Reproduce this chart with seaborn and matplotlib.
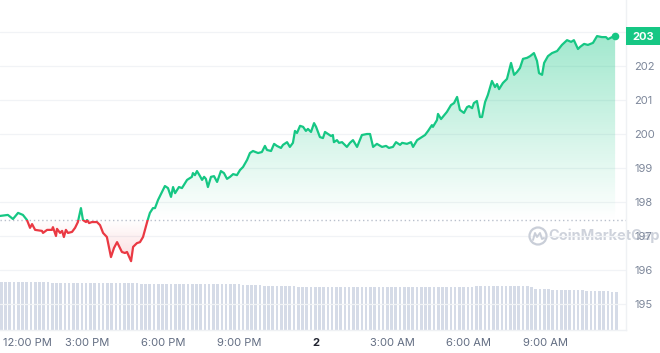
import numpy as np
import matplotlib
matplotlib.use("Agg")
import matplotlib.pyplot as plt
import matplotlib.transforms as mtransforms
from matplotlib.colors import LinearSegmentedColormap
from matplotlib.path import Path
from matplotlib.patches import Rectangle, Circle
from matplotlib.lines import Line2D
import seaborn as sns

# ---------------- data ----------------
# time in hours since midnight of day 1 (24 = "2", i.e. midnight of day 2)
hours = [
    11.58, 11.89, 12.09, 12.29, 12.48, 12.64, 12.76, 12.84, 12.96, 13.23, 13.27, 13.43,
    13.62, 13.66, 13.78, 13.82, 13.94, 14.02, 14.09, 14.17, 14.25, 14.41, 14.53, 14.64,
    14.76, 14.84, 14.96, 15.00, 15.08, 15.19, 15.39, 15.51, 15.63, 15.78, 15.94, 16.06,
    16.18, 16.37, 16.49, 16.57, 16.73, 16.81, 16.96, 17.08, 17.20, 17.36, 17.47, 17.59,
    17.67, 17.79, 18.06, 18.18, 18.30, 18.38, 18.46, 18.61, 18.73, 18.93, 19.12, 19.16,
    19.24, 19.32, 19.44, 19.52, 19.60, 19.67, 19.75, 19.87, 19.99, 20.11, 20.26, 20.38,
    20.50, 20.62, 20.74, 20.89, 21.01, 21.13, 21.29, 21.40, 21.52, 21.72, 21.87, 21.99,
    22.07, 22.23, 22.35, 22.46, 22.62, 22.70, 22.86, 22.97, 23.09, 23.17, 23.25, 23.37,
    23.49, 23.60, 23.68, 23.80, 23.92, 24.00, 24.15, 24.27, 24.35, 24.47, 24.59, 24.66,
    24.70, 24.82, 24.90, 25.02, 25.21, 25.33, 25.45, 25.61, 25.80, 26.00, 26.12, 26.24,
    26.39, 26.59, 26.75, 26.86, 27.02, 27.14, 27.30, 27.38, 27.57, 27.73, 27.81, 27.97,
    28.16, 28.28, 28.40, 28.55, 28.59, 28.75, 28.79, 28.91, 29.14, 29.30, 29.42, 29.54,
    29.65, 29.81, 29.93, 30.01, 30.13, 30.20, 30.32, 30.44, 30.52, 30.64, 30.75, 30.91,
    31.03, 31.11, 31.19, 31.34, 31.50, 31.66, 31.78, 31.89, 32.01, 32.13, 32.29, 32.41,
    32.56, 32.68, 32.76, 32.88, 32.96, 33.11, 33.27, 33.47, 33.66, 33.86, 34.02, 34.13,
    34.29, 34.37, 34.53, 34.68, 34.88, 35.04, 35.23, 35.39, 35.47, 35.63, 35.75,
]
prices = [
    197.59, 197.62, 197.50, 197.68, 197.62, 197.47, 197.24, 197.35, 197.18, 197.15, 197.09, 197.18,
    197.18, 197.26, 197.00, 197.21, 197.09, 197.15, 196.97, 197.18, 197.09, 197.12, 197.24, 197.41,
    197.82, 197.47, 197.41, 197.47, 197.38, 197.41, 197.41, 197.32, 197.09, 196.97, 196.38, 196.65,
    196.82, 196.53, 196.50, 196.53, 196.26, 196.68, 196.79, 196.82, 196.97, 197.41, 197.68, 197.82,
    197.82, 198.06, 198.47, 198.41, 198.15, 198.44, 198.26, 198.44, 198.41, 198.65, 198.74, 198.85,
    198.79, 198.91, 198.76, 198.65, 198.74, 198.68, 198.44, 198.74, 198.76, 198.59, 198.91, 198.85,
    198.68, 198.74, 198.82, 198.79, 198.94, 199.03, 199.24, 199.44, 199.50, 199.44, 199.47, 199.65,
    199.53, 199.50, 199.71, 199.65, 199.59, 199.68, 199.76, 199.62, 199.74, 200.09, 200.03, 200.24,
    200.21, 200.09, 200.15, 200.06, 200.32, 200.21, 199.91, 199.88, 200.06, 200.00, 199.94, 199.97,
    199.76, 199.82, 199.74, 199.76, 199.62, 199.74, 199.82, 199.62, 199.97, 200.00, 200.00, 199.62,
    199.71, 199.62, 199.65, 199.59, 199.62, 199.76, 199.68, 199.74, 199.71, 199.76, 199.62, 199.82,
    199.91, 199.97, 200.09, 200.26, 200.21, 200.41, 200.59, 200.44, 200.65, 200.85, 200.91, 201.09,
    200.71, 200.62, 200.79, 200.82, 200.76, 200.91, 200.97, 200.50, 200.50, 200.94, 201.15, 201.56,
    201.38, 201.47, 201.32, 201.50, 201.62, 202.09, 201.74, 201.82, 201.94, 202.21, 202.24, 202.29,
    202.38, 202.15, 201.79, 201.74, 202.09, 202.29, 202.38, 202.44, 202.62, 202.76, 202.71, 202.76,
    202.50, 202.56, 202.65, 202.62, 202.68, 202.88, 202.85, 202.85, 202.79, 202.85, 202.88,
]
open_price = 197.47

# volume, one bar per 10 minutes starting at the first time stamp (arbitrary units)
volume = [
    4.83, 4.82, 4.82, 4.81, 4.80, 4.80, 4.79, 4.78, 4.77, 4.77, 4.76, 4.76, 4.75, 4.75, 4.74,
    4.74, 4.73, 4.73, 4.72, 4.72, 4.71, 4.71, 4.70, 4.70, 4.69, 4.68, 4.68, 4.67, 4.67, 4.67,
    4.66, 4.66, 4.66, 4.65, 4.65, 4.65, 4.64, 4.64, 4.64, 4.63, 4.63, 4.63, 4.62, 4.62, 4.62,
    4.62, 4.61, 4.61, 4.61, 4.61, 4.60, 4.60, 4.60, 4.60, 4.60, 4.59, 4.58, 4.55, 4.52, 4.50,
    4.48, 4.47, 4.45, 4.44, 4.42, 4.41, 4.40, 4.38, 4.37, 4.36, 4.35, 4.34, 4.33, 4.32, 4.31,
    4.30, 4.29, 4.28, 4.27, 4.27, 4.27, 4.27, 4.27, 4.27, 4.27, 4.27, 4.27, 4.27, 4.27, 4.27,
    4.27, 4.27, 4.27, 4.27, 4.28, 4.28, 4.28, 4.29, 4.29, 4.29, 4.30, 4.30, 4.31, 4.31, 4.32,
    4.32, 4.33, 4.33, 4.34, 4.34, 4.35, 4.35, 4.36, 4.36, 4.37, 4.38, 4.39, 4.40, 4.41, 4.41,
    4.40, 4.40, 4.39, 4.38, 4.36, 4.33, 4.10, 4.08, 4.07, 4.06, 4.05, 4.04, 4.03, 4.02, 4.01,
    4.00, 3.98, 3.96, 3.94, 3.93, 3.92, 3.90, 3.88, 3.86, 3.84, 3.83,
]
vol_hours = [hours[0] + i / 6 for i in range(len(volume))]

xtick_pos = [12, 15, 18, 21, 24, 27, 30, 33]
xtick_labels = ["12:00 PM", "3:00 PM", "6:00 PM", "9:00 PM", "2", "3:00 AM", "6:00 AM", "9:00 AM"]
ytick_pos = [195, 196, 197, 198, 199, 200, 201, 202]
grid_levels = [195, 196, 197, 198, 199, 200, 201, 202, 203]
current_label = "203"

# ---------------- style ----------------
sns.set_theme(style="white")
plt.rcParams["font.family"] = ["Inter", "DejaVu Sans"]

GREEN = "#16c784"
RED = "#ea3943"
TICK = "#7d879a"

W, H = 660, 353
fig = plt.figure(figsize=(W / 100, H / 100), dpi=100)
fig.patch.set_facecolor("white")

ax_left, ax_right, ax_top, ax_bottom = 0, 626, 0, 330
ax = fig.add_axes([ax_left / W, (H - ax_bottom) / H, (ax_right - ax_left) / W, (ax_bottom - ax_top) / H])
ax2 = ax.twinx()

x0 = hours[0]
x1 = x0 + 626 / 25.45
y_lo, y_hi = 202 - 264 / 34, 202 + 66 / 34

# volume bars (behind)
ax2.bar(vol_hours, volume, width=(1 / 6) * 0.62, align="edge", color="#d5dbe7", linewidth=0)
ax2.set_ylim(0, 33)
ax2.set_xlim(x0, x1)
ax2.axis("off")
ax.set_zorder(ax2.get_zorder() + 1)
ax.patch.set_visible(False)

# grid lines and baseline
for g in grid_levels:
    ax.axhline(g, color="#f1f3f6", lw=0.9, zorder=0)
ax.axhline(open_price, color="#b9c0cc", lw=1.0, ls=(0, (1, 2)), zorder=1)

hx = np.array(hours)
py = np.array(prices)

# gradient fills
green_cmap = LinearSegmentedColormap.from_list("g", [(0.086, 0.78, 0.52, 0.0), (0.086, 0.78, 0.52, 0.42)])
red_cmap = LinearSegmentedColormap.from_list("r", [(0.92, 0.22, 0.26, 0.18), (0.92, 0.22, 0.26, 0.0)])
grad = np.linspace(0, 1, 256).reshape(-1, 1)

pg = ax.fill_between(hx, py, open_price, where=py >= open_price, interpolate=True,
                     facecolor="none", edgecolor="none")
pr = ax.fill_between(hx, py, open_price, where=py <= open_price, interpolate=True,
                     facecolor="none", edgecolor="none")
img_g = ax.imshow(grad, extent=[x0, x1, open_price, 203.2], origin="lower", cmap=green_cmap,
                  aspect="auto", zorder=2, interpolation="bilinear")
img_g.set_clip_path(Path.make_compound_path(*pg.get_paths()), ax.transData)
img_r = ax.imshow(grad, extent=[x0, x1, 196.2, open_price], origin="lower", cmap=red_cmap,
                  aspect="auto", zorder=2, interpolation="bilinear")
img_r.set_clip_path(Path.make_compound_path(*pr.get_paths()), ax.transData)

# price line, green above the open price and red below it
sns.lineplot(x=hx, y=py, ax=ax, color=GREEN, lw=1.6, zorder=4)
line_g = ax.lines[-1]
sns.lineplot(x=hx, y=py, ax=ax, color=RED, lw=1.6, zorder=4)
line_r = ax.lines[-1]
line_g.set_clip_path(Rectangle((x0 - 1, open_price), 50, 20, transform=ax.transData))
line_r.set_clip_path(Rectangle((x0 - 1, open_price - 20), 50, 20, transform=ax.transData))
line_g.set_solid_capstyle("round")
line_r.set_solid_capstyle("round")

# end marker
ax.scatter([hx[-1]], [py[-1]], s=30, color=GREEN, zorder=5, linewidths=0)

ax.set_xlim(x0, x1)
ax.set_ylim(y_lo, y_hi)

# axes frame: only faint right and bottom lines
for s in ["top", "left"]:
    ax.spines[s].set_visible(False)
for s in ["right", "bottom"]:
    ax.spines[s].set_color("#eff1f4")
    ax.spines[s].set_linewidth(1.0)

# y ticks on right
ax.yaxis.tick_right()
ax.set_yticks(ytick_pos)
ax.set_yticklabels([str(v) for v in ytick_pos])
ax.tick_params(axis="y", length=0, pad=6, labelsize=8, labelcolor=TICK)

# x ticks
ax.set_xticks(xtick_pos)
ax.set_xticklabels(xtick_labels)
ax.tick_params(axis="x", length=0, pad=6, labelsize=8, labelcolor="#626d82")
for lab in ax.get_xticklabels():
    if lab.get_text() == "2":
        lab.set_fontweight("bold")
        lab.set_color("#222531")
    if lab.get_text() == "12:00 PM":
        lab.set_horizontalalignment("left")
        lab.set_transform(lab.get_transform() + mtransforms.ScaledTranslation(-8 / 100, 0, fig.dpi_scale_trans))
ax.set_xlabel("")
ax.set_ylabel("")

# current price box
trans = mtransforms.blended_transform_factory(fig.transFigure, ax.transData)
box_h = 18 / 34.0
box = Rectangle((626 / W, py[-1] - box_h / 2), 34 / W, box_h, transform=trans,
                facecolor=GREEN, edgecolor="none", zorder=9, clip_on=False)
fig.patches.append(box)
fig.text(643 / W, 1 - 36.5 / H, current_label, ha="center", va="center",
         fontsize=8, fontweight="bold", color="white", zorder=10)

# watermark
wm = "#c9ced8"
fig.text(548 / W, 1 - 236 / H, "CoinMarketCap", fontsize=10.5, fontweight="bold", color=wm,
         ha="left", va="center", alpha=0.9, zorder=0)
cx, cy = 538 / 100, (H - 236) / 100
fig.patches.append(Circle((cx, cy), 0.085, transform=fig.dpi_scale_trans,
                          fill=False, edgecolor=wm, lw=1.6))
fig.lines.append(Line2D([cx - 0.05, cx - 0.03, cx - 0.01, cx + 0.02, cx + 0.04, cx + 0.06],
                        [cy - 0.04, cy + 0.03, cy - 0.01, cy + 0.03, cy - 0.03, cy - 0.02],
                        transform=fig.dpi_scale_trans, color=wm, lw=1.4))

fig.savefig("out.png", dpi=100)
